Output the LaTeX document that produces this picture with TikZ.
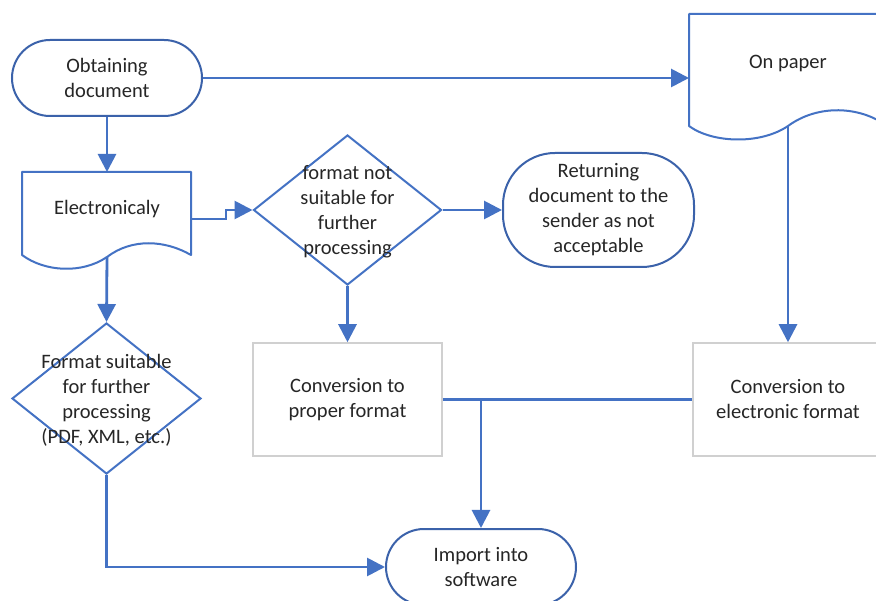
\documentclass[tikz,border=0pt]{standalone}
\usepackage{fontspec}
\setmainfont{Carlito}
\usetikzlibrary{arrows.meta,shapes.geometric}
\definecolor{lineblue}{HTML}{4472C4}
\definecolor{termblue}{HTML}{3B62AA}
\definecolor{boxgray}{HTML}{D0D0D0}
\definecolor{textc}{HTML}{262626}
\begin{document}
\begin{tikzpicture}[x=1pt,y=-1pt,
  txt/.style={font=\fontsize{20.5pt}{25pt}\selectfont, text=textc, align=center, inner sep=0pt},
  conn/.style={draw=lineblue, line width=2.8pt},
  arr/.style={conn, -{Triangle[length=18pt,width=18pt]}},
  term/.style={draw=termblue, line width=2pt, txt, rectangle},
  dia/.style={draw=lineblue, line width=2pt, diamond, inner sep=0pt},
  docshape/.style={draw=lineblue, line width=2pt, line join=round},
  procbox/.style={draw=boxgray, line width=1.5pt, rectangle, txt}]
\useasboundingbox (0,0) rectangle (876,601);
\clip (0,0) rectangle (876,601);
\fill[white] (0,0) rectangle (876,601);

% terminals
\node[term, minimum width=190pt, minimum height=76pt, rounded corners=38pt] (obt) at (107,78) {Obtaining\\document};
\node[term, minimum width=191pt, minimum height=114pt, rounded corners=52pt] (ret) at (598.5,210) {Returning\\document to the\\sender as not\\acceptable};
\node[term, minimum width=190pt, minimum height=76pt, rounded corners=38pt] (imp) at (481,567) {Import into\\software};

% documents
\draw[docshape] (22,255) -- (22,172) -- (191,172) -- (191,255)
  .. controls (165,240) and (132,238) .. (107,257)
  .. controls (82,274) and (45,272) .. cycle;
\node[txt] (elec) at (107,209) {Electronicaly};
\coordinate (electop) at (107,172);
\coordinate (elecR) at (191,219);
\coordinate (elecB) at (107,257);

\draw[docshape] (689,126) -- (689,14) -- (887,14) -- (887,126)
  .. controls (860,106) and (818,104) .. (788,126)
  .. controls (760,145) and (712,143) .. cycle;
\node[txt] (paper) at (788,64) {On paper};
\coordinate (paperW) at (689,78);
\coordinate (paperB) at (788,126);

% decisions
\node[dia, minimum width=188pt, minimum height=150pt] (d1) at (347.5,210) {};
\node[txt] (d1t) at (347.5,211.5) {format not\\suitable for\\further\\processing};
\node[dia, minimum width=189pt, minimum height=151pt] (d2) at (106.5,398.5) {};
\node[txt] (d2t) at (106.5,400) {Format suitable\\for further\\processing\\(PDF, XML, etc.)};

% process boxes
\node[procbox, minimum width=189pt, minimum height=113pt] (conv1) at (347.5,399.5) {Conversion to\\proper format};
\node[procbox, minimum width=190pt, minimum height=113pt] (conv2) at (788,399.5) {Conversion to\\electronic format};

% connectors
\draw[arr] (obt.south) -- (electop);
\draw[arr] (obt.east) -- (paperW);
\draw[arr] (elecR) -- ++(35,0) |- (d1.west);
\draw[arr] (elecB) -- (d2.north);
\draw[arr] (d1.east) -- (ret.west);
\draw[arr] (d1.south) -- (conv1.north);
\draw[arr] (paperB) -- (conv2.north);
\draw[arr] (d2.south) |- (imp.west);
\draw[conn] (conv1.east) -- (conv2.west);
\draw[arr] (imp.north |- conv1.east) -- (imp.north);
\end{tikzpicture}
\end{document}
